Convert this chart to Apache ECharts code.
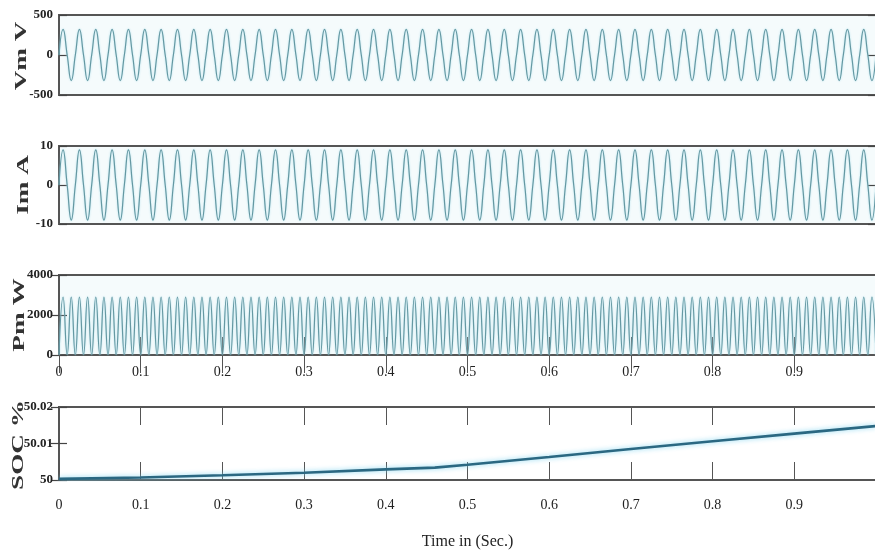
<!DOCTYPE html>
<html>
<head>
<meta charset="utf-8">
<title>Vm / Im / Pm / SOC</title>
<script src="https://cdn.jsdelivr.net/npm/echarts@6/dist/echarts.min.js"></script>
<style>
    html, body { margin: 0; padding: 0; background: #fff; }
    #main { width: 875px; height: 553px; }
</style>
</head>
<body>
<div id="main"></div>
<script>
// sample times (s) at the zero crossings / extrema of the waveforms
var timeAxis = [
    0, 0.005, 0.01, 0.015, 0.02, 0.025, 0.03, 0.035, 0.04, 0.045, 0.05, 0.055, 0.06, 0.065, 0.07, 0.075, 0.08, 0.085, 0.09, 0.095,
    0.1, 0.105, 0.11, 0.115, 0.12, 0.125, 0.13, 0.135, 0.14, 0.145, 0.15, 0.155, 0.16, 0.165, 0.17, 0.175, 0.18, 0.185, 0.19, 0.195,
    0.2, 0.205, 0.21, 0.215, 0.22, 0.225, 0.23, 0.235, 0.24, 0.245, 0.25, 0.255, 0.26, 0.265, 0.27, 0.275, 0.28, 0.285, 0.29, 0.295,
    0.3, 0.305, 0.31, 0.315, 0.32, 0.325, 0.33, 0.335, 0.34, 0.345, 0.35, 0.355, 0.36, 0.365, 0.37, 0.375, 0.38, 0.385, 0.39, 0.395,
    0.4, 0.405, 0.41, 0.415, 0.42, 0.425, 0.43, 0.435, 0.44, 0.445, 0.45, 0.455, 0.46, 0.465, 0.47, 0.475, 0.48, 0.485, 0.49, 0.495,
    0.5, 0.505, 0.51, 0.515, 0.52, 0.525, 0.53, 0.535, 0.54, 0.545, 0.55, 0.555, 0.56, 0.565, 0.57, 0.575, 0.58, 0.585, 0.59, 0.595,
    0.6, 0.605, 0.61, 0.615, 0.62, 0.625, 0.63, 0.635, 0.64, 0.645, 0.65, 0.655, 0.66, 0.665, 0.67, 0.675, 0.68, 0.685, 0.69, 0.695,
    0.7, 0.705, 0.71, 0.715, 0.72, 0.725, 0.73, 0.735, 0.74, 0.745, 0.75, 0.755, 0.76, 0.765, 0.77, 0.775, 0.78, 0.785, 0.79, 0.795,
    0.8, 0.805, 0.81, 0.815, 0.82, 0.825, 0.83, 0.835, 0.84, 0.845, 0.85, 0.855, 0.86, 0.865, 0.87, 0.875, 0.88, 0.885, 0.89, 0.895,
    0.9, 0.905, 0.91, 0.915, 0.92, 0.925, 0.93, 0.935, 0.94, 0.945, 0.95, 0.955, 0.96, 0.965, 0.97, 0.975, 0.98, 0.985, 0.99, 0.995,
    1
];
// Vm (V)
var vmValues = [
    0, 320, 0, -320, 0, 320, 0, -320, 0, 320, 0, -320, 0, 320, 0, -320, 0, 320, 0, -320,
    0, 320, 0, -320, 0, 320, 0, -320, 0, 320, 0, -320, 0, 320, 0, -320, 0, 320, 0, -320,
    0, 320, 0, -320, 0, 320, 0, -320, 0, 320, 0, -320, 0, 320, 0, -320, 0, 320, 0, -320,
    0, 320, 0, -320, 0, 320, 0, -320, 0, 320, 0, -320, 0, 320, 0, -320, 0, 320, 0, -320,
    0, 320, 0, -320, 0, 320, 0, -320, 0, 320, 0, -320, 0, 320, 0, -320, 0, 320, 0, -320,
    0, 320, 0, -320, 0, 320, 0, -320, 0, 320, 0, -320, 0, 320, 0, -320, 0, 320, 0, -320,
    0, 320, 0, -320, 0, 320, 0, -320, 0, 320, 0, -320, 0, 320, 0, -320, 0, 320, 0, -320,
    0, 320, 0, -320, 0, 320, 0, -320, 0, 320, 0, -320, 0, 320, 0, -320, 0, 320, 0, -320,
    0, 320, 0, -320, 0, 320, 0, -320, 0, 320, 0, -320, 0, 320, 0, -320, 0, 320, 0, -320,
    0, 320, 0, -320, 0, 320, 0, -320, 0, 320, 0, -320, 0, 320, 0, -320, 0, 320, 0, -320,
    0
];
// Im (A)
var imValues = [
    0, 9, 0, -9, 0, 9, 0, -9, 0, 9, 0, -9, 0, 9, 0, -9, 0, 9, 0, -9,
    0, 9, 0, -9, 0, 9, 0, -9, 0, 9, 0, -9, 0, 9, 0, -9, 0, 9, 0, -9,
    0, 9, 0, -9, 0, 9, 0, -9, 0, 9, 0, -9, 0, 9, 0, -9, 0, 9, 0, -9,
    0, 9, 0, -9, 0, 9, 0, -9, 0, 9, 0, -9, 0, 9, 0, -9, 0, 9, 0, -9,
    0, 9, 0, -9, 0, 9, 0, -9, 0, 9, 0, -9, 0, 9, 0, -9, 0, 9, 0, -9,
    0, 9, 0, -9, 0, 9, 0, -9, 0, 9, 0, -9, 0, 9, 0, -9, 0, 9, 0, -9,
    0, 9, 0, -9, 0, 9, 0, -9, 0, 9, 0, -9, 0, 9, 0, -9, 0, 9, 0, -9,
    0, 9, 0, -9, 0, 9, 0, -9, 0, 9, 0, -9, 0, 9, 0, -9, 0, 9, 0, -9,
    0, 9, 0, -9, 0, 9, 0, -9, 0, 9, 0, -9, 0, 9, 0, -9, 0, 9, 0, -9,
    0, 9, 0, -9, 0, 9, 0, -9, 0, 9, 0, -9, 0, 9, 0, -9, 0, 9, 0, -9,
    0
];
// Pm (W)
var pmValues = [
    0, 2900, 0, 2900, 0, 2900, 0, 2900, 0, 2900, 0, 2900, 0, 2900, 0, 2900, 0, 2900, 0, 2900,
    0, 2900, 0, 2900, 0, 2900, 0, 2900, 0, 2900, 0, 2900, 0, 2900, 0, 2900, 0, 2900, 0, 2900,
    0, 2900, 0, 2900, 0, 2900, 0, 2900, 0, 2900, 0, 2900, 0, 2900, 0, 2900, 0, 2900, 0, 2900,
    0, 2900, 0, 2900, 0, 2900, 0, 2900, 0, 2900, 0, 2900, 0, 2900, 0, 2900, 0, 2900, 0, 2900,
    0, 2900, 0, 2900, 0, 2900, 0, 2900, 0, 2900, 0, 2900, 0, 2900, 0, 2900, 0, 2900, 0, 2900,
    0, 2900, 0, 2900, 0, 2900, 0, 2900, 0, 2900, 0, 2900, 0, 2900, 0, 2900, 0, 2900, 0, 2900,
    0, 2900, 0, 2900, 0, 2900, 0, 2900, 0, 2900, 0, 2900, 0, 2900, 0, 2900, 0, 2900, 0, 2900,
    0, 2900, 0, 2900, 0, 2900, 0, 2900, 0, 2900, 0, 2900, 0, 2900, 0, 2900, 0, 2900, 0, 2900,
    0, 2900, 0, 2900, 0, 2900, 0, 2900, 0, 2900, 0, 2900, 0, 2900, 0, 2900, 0, 2900, 0, 2900,
    0, 2900, 0, 2900, 0, 2900, 0, 2900, 0, 2900, 0, 2900, 0, 2900, 0, 2900, 0, 2900, 0, 2900,
    0
];
// SOC (%)
var socTimes  = [0, 0.1, 0.2, 0.3, 0.4, 0.46, 0.5, 0.6, 0.7, 0.8, 0.9, 1];
var socValues = [50.0003, 50.0007, 50.0013, 50.002, 50.0029, 50.0034, 50.0042, 50.0063, 50.0085, 50.0106, 50.0127, 50.0148];

// tick labels that can be seen (the one at 1 falls off the right edge)
var xTicks = ['0', '0.1', '0.2', '0.3', '0.4', '0.5', '0.6', '0.7', '0.8', '0.9'];
var panelNames = ['Vm V', 'Im A', 'Pm W', 'SOC %'];
var yRanges = [[-500, 500, 500], [-10, 10, 10], [0, 4000, 2000], [50, 50.02, 0.01]];

function pairs(xs, ys) {
    var out = [];
    for (var i = 0; i < xs.length; i++) {
        out.push([xs[i], ys[i]]);
    }
    return out;
}

var SERIF = "'Liberation Serif', 'DejaVu Serif', serif";
var grids = [
    {left: 59, top: 15, width: 817, height: 80},
    {left: 59, top: 146, width: 817, height: 78},
    {left: 59, top: 275, width: 817, height: 80},
    {left: 59, top: 407, width: 817, height: 73}
];
for (var g = 0; g < grids.length; g++) {
    grids[g].show = true;
    grids[g].borderWidth = 2;
    grids[g].borderColor = '#555';
    grids[g].backgroundColor = g < 3 ? '#f5fbfc' : '#ffffff';
    grids[g].outerBoundsMode = 'none';
    grids[g].containLabel = false;
}

function xAxisFor(gridIndex, position, labels, ticks, margin) {
    return {
        type: 'value',
        gridIndex: gridIndex,
        position: position,
        min: 0,
        max: 1,
        interval: 0.1,
        axisLine: {show: false},
        splitLine: {show: false},
        axisTick: {show: ticks, inside: true, length: 18, lineStyle: {color: '#555', width: 1}},
        axisLabel: {
            show: labels,
            margin: margin,
            color: '#222',
            fontFamily: SERIF,
            fontSize: 14,
            formatter: function (v) {
                var s = String(Math.round(v * 10) / 10);
                return xTicks.indexOf(s) >= 0 ? s : '';
            }
        }
    };
}

function yAxisFor(gridIndex, position, labels) {
    var r = yRanges[gridIndex];
    return {
        type: 'value',
        gridIndex: gridIndex,
        position: position,
        min: r[0],
        max: r[1],
        interval: r[2],
        axisLine: {show: false},
        splitLine: {show: false},
        axisTick: {show: true, inside: true, length: 8, lineStyle: {color: '#444', width: 1.2}},
        axisLabel: {
            show: labels,
            margin: 6,
            color: '#222',
            fontFamily: SERIF,
            fontSize: 13,
            fontWeight: 'bold',
            formatter: function (v) {
                return String(Math.round(v * 1000) / 1000);
            }
        }
    };
}

var xAxes = [
    xAxisFor(0, 'bottom', false, false, 8),
    xAxisFor(1, 'bottom', false, false, 8),
    xAxisFor(2, 'bottom', true, true, 10),
    xAxisFor(3, 'bottom', true, true, 18),
    xAxisFor(2, 'top', false, true, 8),
    xAxisFor(3, 'top', false, true, 8)
];
xAxes[3].name = 'Time in (Sec.)';
xAxes[3].nameLocation = 'middle';
xAxes[3].nameGap = 54;
xAxes[3].nameTextStyle = {fontFamily: SERIF, fontSize: 16, color: '#222'};

var yAxes = [];
for (var k = 0; k < 4; k++) {
    yAxes.push(yAxisFor(k, 'left', true));
}
for (var k2 = 0; k2 < 4; k2++) {
    yAxes.push(yAxisFor(k2, 'right', false));
}

var waveStyle = {
    color: '#6598a2',
    width: 1.2,
    shadowColor: 'rgba(160, 220, 235, 0.9)',
    shadowBlur: 2
};

var nameCenters = [[22, 56], [24, 185], [20, 315], [19, 445]];
var graphics = [];
for (var n = 0; n < panelNames.length; n++) {
    graphics.push({
        type: 'text',
        x: nameCenters[n][0],
        y: nameCenters[n][1],
        rotation: Math.PI / 2,
        scaleX: 1.7,
        style: {
            text: panelNames[n],
            font: 'bold 16px ' + SERIF,
            fill: '#333',
            textAlign: 'center',
            textVerticalAlign: 'middle'
        }
    });
}

var myChart = echarts.init(document.getElementById('main'));
var option = {
    animation: false,
    backgroundColor: '#ffffff',
    grid: grids,
    xAxis: xAxes,
    yAxis: yAxes,
    graphic: graphics,
    series: [
        {
            type: 'line', xAxisIndex: 0, yAxisIndex: 0,
            data: pairs(timeAxis, vmValues),
            smooth: true, showSymbol: false,
            lineStyle: waveStyle
        },
        {
            type: 'line', xAxisIndex: 1, yAxisIndex: 1,
            data: pairs(timeAxis, imValues),
            smooth: true, showSymbol: false,
            lineStyle: waveStyle
        },
        {
            type: 'line', xAxisIndex: 2, yAxisIndex: 2,
            data: pairs(timeAxis, pmValues),
            smooth: true, showSymbol: false,
            lineStyle: waveStyle
        },
        {
            type: 'line', xAxisIndex: 3, yAxisIndex: 3,
            data: pairs(socTimes, socValues),
            showSymbol: false,
            lineStyle: {
                color: '#2b6882',
                width: 2.6,
                shadowColor: 'rgba(120, 210, 240, 0.9)',
                shadowBlur: 5
            }
        }
    ]
};
myChart.setOption(option);
</script>
</body>
</html>
